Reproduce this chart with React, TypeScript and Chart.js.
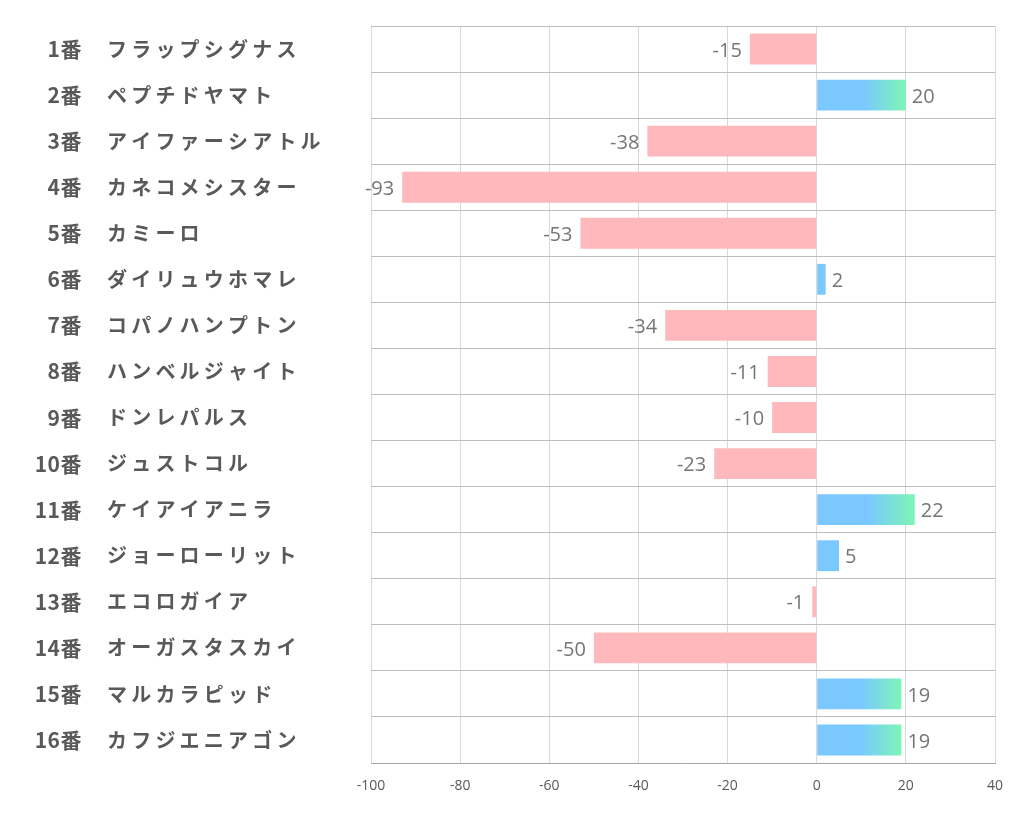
import React, { useEffect, useRef } from "react";
import { Chart, registerables } from "chart.js";

Chart.register(...registerables);

const numbers = ["1番", "2番", "3番", "4番", "5番", "6番", "7番", "8番", "9番", "10番", "11番", "12番", "13番", "14番", "15番", "16番"];
const names = [
  "フラップシグナス",
  "ペプチドヤマト",
  "アイファーシアトル",
  "カネコメシスター",
  "カミーロ",
  "ダイリュウホマレ",
  "コパノハンプトン",
  "ハンベルジャイト",
  "ドンレパルス",
  "ジュストコル",
  "ケイアイアニラ",
  "ジョーローリット",
  "エコロガイア",
  "オーガスタスカイ",
  "マルカラピッド",
  "カフジエニアゴン",
];
const values = [-15, 20, -38, -93, -53, 2, -34, -11, -10, -23, 22, 5, -1, -50, 19, 19];
const xMin = -100;
const xMax = 40;
const xStep = 20;

const BLUE = "#7ac8ff";
const GREEN = "#7ef5b6";
const PINK = "#ffb9bd";

export default function App() {
  const ref = useRef<HTMLCanvasElement | null>(null);

  useEffect(() => {
    if (!ref.current) return;
    const labelPlugin = {
      id: "sideLabels",
      afterDraw(chart: any) {
        const ctx = chart.ctx;
        const yScale = chart.scales.y;
        ctx.save();
        ctx.fillStyle = "#595959";
        ctx.textBaseline = "middle";
        numbers.forEach((n, i) => {
          const y = yScale.getPixelForValue(i);
          ctx.font = "bold 21px 'Noto Sans CJK JP'";
          ctx.textAlign = "right";
          (ctx as any).letterSpacing = "0.5px";
          ctx.fillText(n, 82, y);
          ctx.textAlign = "left";
          ctx.font = "bold 20px 'Noto Sans CJK JP'";
          (ctx as any).letterSpacing = "4.2px";
          ctx.fillText(names[i], 107, y);
        });
        (ctx as any).letterSpacing = "0px";
        const meta = chart.getDatasetMeta(0);
        ctx.font = "20px 'Open Sans'";
        ctx.fillStyle = "#767676";
        meta.data.forEach((bar: any, i: number) => {
          const v = values[i];
          if (v >= 0) {
            ctx.textAlign = "left";
            ctx.fillText(String(v), bar.x + 6, bar.y + 2);
          } else {
            ctx.textAlign = "right";
            ctx.fillText(String(v), bar.x - 8, bar.y + 2);
          }
        });
        ctx.restore();
      },
    };

    const chart = new Chart(ref.current, {
      type: "bar",
      data: {
        labels: names,
        datasets: [
          {
            data: values,
            backgroundColor: (c: any) => {
              const v = values[c.dataIndex];
              if (v < 0) return PINK;
              const chartObj = c.chart;
              if (!chartObj.chartArea || v <= 10) return BLUE;
              const xs = chartObj.scales.x;
              const x0 = xs.getPixelForValue(0);
              const x1 = xs.getPixelForValue(v);
              const g = chartObj.ctx.createLinearGradient(x0, 0, x1, 0);
              g.addColorStop(0, BLUE);
              g.addColorStop(0.52, BLUE);
              g.addColorStop(1, GREEN);
              return g;
            },
            borderWidth: 0,
            categoryPercentage: 1,
            barPercentage: 0.67,
          },
        ],
      },
      options: {
        indexAxis: "y",
        animation: false,
        responsive: false,
        maintainAspectRatio: false,
        layout: { padding: { left: 371, top: 26, right: 27, bottom: 31 } },
        plugins: { legend: { display: false }, tooltip: { enabled: false } },
        scales: {
          x: {
            min: xMin,
            max: xMax,
            ticks: {
              stepSize: xStep,
              color: "#595959",
              font: { size: 14, family: "'Open Sans'" },
              padding: 15,
              maxRotation: 0,
            },
            grid: { color: "#d9d9d9", tickLength: 0, drawTicks: false },
            border: { color: "#a6a6a6", width: 1 },
            afterFit: (s: any) => {
              s.height = 40;
            },
          },
          y: {
            offset: true,
            ticks: { display: false },
            grid: { offset: true, color: "#bfbfbf", drawTicks: false, tickLength: 0 },
            border: { display: false },
            afterFit: (s: any) => {
              s.width = 0;
            },
          },
        },
      },
      plugins: [labelPlugin],
    } as any);
    return () => chart.destroy();
  }, []);

  return (
    <div style={{ position: "fixed", left: 0, top: 0, width: 1022, height: 834, background: "#fff" }}>
      <canvas ref={ref} width={1022} height={834} style={{ width: 1022, height: 834 }} />
    </div>
  );
}
